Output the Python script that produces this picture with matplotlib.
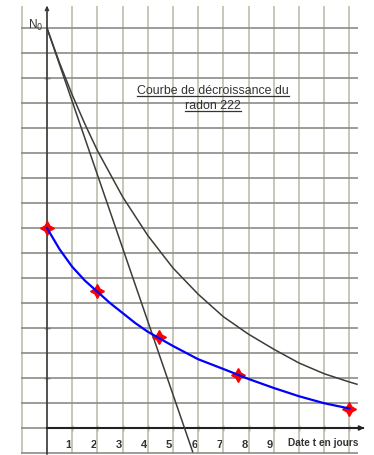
import matplotlib
matplotlib.use("Agg")
import matplotlib.pyplot as plt
import matplotlib.transforms as mtransforms
from matplotlib.lines import Line2D

plt.rcParams['font.family'] = ['Liberation Sans', 'DejaVu Sans']

# gray decay curve of radon 222 (grid units, N0 = 16)
radon_t = [0, 0.5, 1, 1.5, 2, 3, 4, 5, 6, 7, 8, 9, 10, 11, 12, 12.3]
radon_n = [16, 14.6, 13.33, 12.17, 11.1, 9.25, 7.7, 6.4, 5.35, 4.45, 3.75, 3.15, 2.6, 2.17, 1.84, 1.75]

# tangent at the origin
tangent_t = [0, 5.78]
tangent_n = [16, -0.95]

# blue measured curve and red points
blue_t = [0, 0.5, 1, 1.5, 2, 2.5, 3, 3.5, 4, 5, 6, 7, 8, 9, 10, 11, 12]
blue_n = [8, 7.15, 6.45, 5.9, 5.45, 5.0, 4.6, 4.2, 3.85, 3.28, 2.75, 2.36, 1.96, 1.6, 1.27, 0.99, 0.78]
star_t = [0, 2, 4.45, 7.57, 12]
star_n = [8, 5.5, 3.63, 2.12, 0.78]

x_ticks = list(range(1, 13))
x_labels = ['1', '2', '3', '4', '5', '6', '7', '8', '9', '', '', '']
y_marks = [2, 4, 14]

W, H = 374, 455
fig = plt.figure(figsize=(W / 100, H / 100), dpi=100)
ax = fig.add_axes([20.5 / W, 0.75 / H, 337.5 / W, 448.75 / H])
ax.set_xlim(-1.05, 12.34)
ax.set_ylim(-1.05, 16.9)

# grid paper
ax.xaxis.remove_overlapping_locs = False
ax.yaxis.remove_overlapping_locs = False
ax.set_xticks(range(-1, 13), minor=True)
ax.set_yticks(range(-1, 17), minor=True)
ax.xaxis.grid(True, which='minor', color='#c4c2b2', lw=1.3)
ax.yaxis.grid(True, which='minor', color='#8c8c86', lw=1.2)
ax.set_axisbelow(True)
ax.tick_params(which='minor', length=0)

# axes through origin
for s in ['top', 'right']:
    ax.spines[s].set_visible(False)
ax.spines['bottom'].set_position(('data', 0))
ax.spines['bottom'].set_bounds(0, 12.55)
ax.spines['bottom'].set_color('#222222')
ax.spines['bottom'].set_linewidth(1.5)
ax.spines['left'].set_position(('data', 0))
ax.spines['left'].set_bounds(-1.05, 16.8)
ax.spines['left'].set_color('#333333')
ax.spines['left'].set_linewidth(1.1)

ax.set_xticks(x_ticks, x_labels)
ax.tick_params(axis='x', direction='inout', length=4, width=1, color='#333333',
               pad=7, labelsize=8, labelcolor='#333333')
# digits sit just left of their grid line
shift = mtransforms.ScaledTranslation(-4 / 100, 0, fig.dpi_scale_trans)
for lab in ax.get_xticklabels():
    lab.set_fontweight('bold')
    lab.set_transform(lab.get_transform() + shift)
ax.set_yticks(y_marks, [''] * len(y_marks))
ax.tick_params(axis='y', direction='inout', length=5, width=1, color='#333333')

ax.annotate('', xy=(12.7, 0), xytext=(12.4, 0), annotation_clip=False,
            arrowprops=dict(arrowstyle='-|>', color='#222222', lw=1.2, mutation_scale=7))
ax.annotate('', xy=(0, 17.0), xytext=(0, 16.6), annotation_clip=False,
            arrowprops=dict(arrowstyle='->', color='#333333', lw=1, mutation_scale=6))

# curves
ax.plot(radon_t, radon_n, color='#3c3c38', lw=1.1, zorder=3)
ax.plot(tangent_t, tangent_n, color='#3c3c38', lw=1.1, zorder=3)
ax.plot(star_t, star_n, ls='none', marker=(4, 1, 0), ms=10, color='red', zorder=4,
        clip_on=False)
ax.plot(blue_t, blue_n, color='#0000ff', lw=1.6, zorder=5)

# texts
ax.text(-0.14, 16.1, 'N$_0$', ha='right', va='center', fontsize=8.5, color='#333333')
ax.text(12.34, -0.6, 'Date t en jours', ha='right', va='center', fontsize=7.3,
        fontweight='bold', color='#333333')
t1 = ax.text(6.59, 13.48, 'Courbe de décroissance du', ha='center', va='center',
             fontsize=8.9, color='#333333')
t2 = ax.text(6.59, 12.88, 'radon 222', ha='center', va='center',
             fontsize=8.9, color='#333333')

# underline the title
fig.canvas.draw()
r = fig.canvas.get_renderer()
for t in (t1, t2):
    bb = t.get_window_extent(r)
    y = (bb.y0 + 1) / H
    fig.lines.append(Line2D([bb.x0 / W, bb.x1 / W], [y, y], transform=fig.transFigure,
                            color='#333333', lw=0.9))

fig.savefig('out.png', dpi=100, facecolor='white')
